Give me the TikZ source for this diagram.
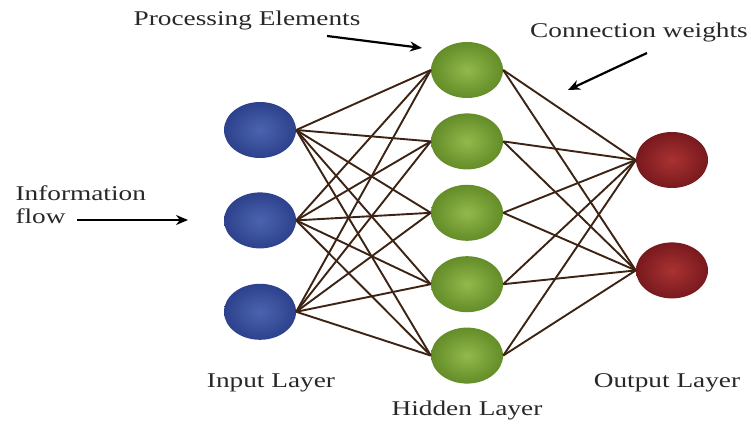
\documentclass[tikz,border=0pt]{standalone}
\usepackage{graphicx}
\usepackage{fontspec}
\setmainfont{Liberation Serif}
\usetikzlibrary{shapes.geometric, positioning, arrows.meta}

\definecolor{inlight}{RGB}{75,100,175}
\definecolor{indark}{RGB}{45,65,140}
\definecolor{hidlight}{RGB}{145,185,75}
\definecolor{hiddark}{RGB}{100,140,40}
\definecolor{outlight}{RGB}{170,50,50}
\definecolor{outdark}{RGB}{120,25,30}
\definecolor{wbrown}{RGB}{60,35,20}
\definecolor{txtgray}{RGB}{40,40,40}

\newcommand{\wtxt}[1]{\scalebox{1.3}[1]{#1}}

\tikzset{
    neuron/.style={ellipse, minimum width=72pt, minimum height=56pt, inner sep=0pt, shading=radial},
    innode/.style={neuron, inner color=inlight, outer color=indark},
    hidnode/.style={neuron, inner color=hidlight, outer color=hiddark},
    outnode/.style={neuron, inner color=outlight, outer color=outdark},
    weight/.style={draw=wbrown, line width=1.9pt},
    tagtext/.style={text=txtgray, font=\fontsize{21}{23}\selectfont},
    pointarrow/.style={-{Stealth[length=12pt,width=10pt]}, line width=2.2pt, black},
}

\begin{document}
\begin{tikzpicture}[x=1pt, y=-1pt]
        \useasboundingbox (0,0) rectangle (751,427);

        \node[innode] (i1) at (260,130) {};
        \node[innode, below=34pt of i1] (i2) {};
        \node[innode, below=35pt of i2] (i3) {};

        \node[hidnode] (h1) at (467,70) {};
        \node[hidnode, below=15pt of h1] (h2) {};
        \node[hidnode, below=15pt of h2] (h3) {};
        \node[hidnode, below=15pt of h3] (h4) {};
        \node[hidnode, below=15pt of h4] (h5) {};

        \node[outnode] (o1) at (672,160) {};
        \node[outnode, below=54pt of o1] (o2) {};

        \draw[weight]
            (i1.east) edge (h1.west)
            (i1.east) edge (h2.west)
            (i1.east) edge (h3.west)
            (i1.east) edge (h4.west)
            (i1.east) edge (h5.west)

            (i2.east) edge (h1.west)
            (i2.east) edge (h2.west)
            (i2.east) edge (h3.west)
            (i2.east) edge (h4.west)
            (i2.east) edge (h5.west)

            (i3.east) edge (h1.west)
            (i3.east) edge (h2.west)
            (i3.east) edge (h3.west)
            (i3.east) edge (h4.west)
            (i3.east) edge (h5.west)

            (h1.east) edge (o1.west)
            (h2.east) edge (o1.west)
            (h3.east) edge (o1.west)
            (h4.east) edge (o1.west)
            (h5.east) edge (o1.west)

            (h1.east) edge (o2.west)
            (h2.east) edge (o2.west)
            (h3.east) edge (o2.west)
            (h4.east) edge (o2.west)
            (h5.east) edge (o2.west);

        \node[tagtext] (pe) at (247,20) {\wtxt{Processing Elements}};
        \node[tagtext] (cw) at (639,32) {\wtxt{Connection weights}};
        \node[tagtext, align=left, anchor=west] (info) at (12,205) {\wtxt{Information}\\\wtxt{flow}};
        \node[tagtext] (inlab) at (271,383) {\wtxt{Input Layer}};
        \node[tagtext] (hidlab) at (467,410) {\wtxt{Hidden Layer}};
        \node[tagtext] (outlab) at (667,383) {\wtxt{Output Layer}};

        \coordinate (pe-tail) at (327,36);
        \coordinate (pe-head) at (422,48);
        \coordinate (cw-tail) at (647,53);
        \coordinate (cw-head) at (568,90);
        \coordinate (info-tail) at (77,220);
        \coordinate (info-head) at (188,220);

        \draw[pointarrow] (pe-tail) -- (pe-head);
        \draw[pointarrow] (cw-tail) -- (cw-head);
        \draw[pointarrow] (info-tail) -- (info-head);
    \end{tikzpicture}
\end{document}
